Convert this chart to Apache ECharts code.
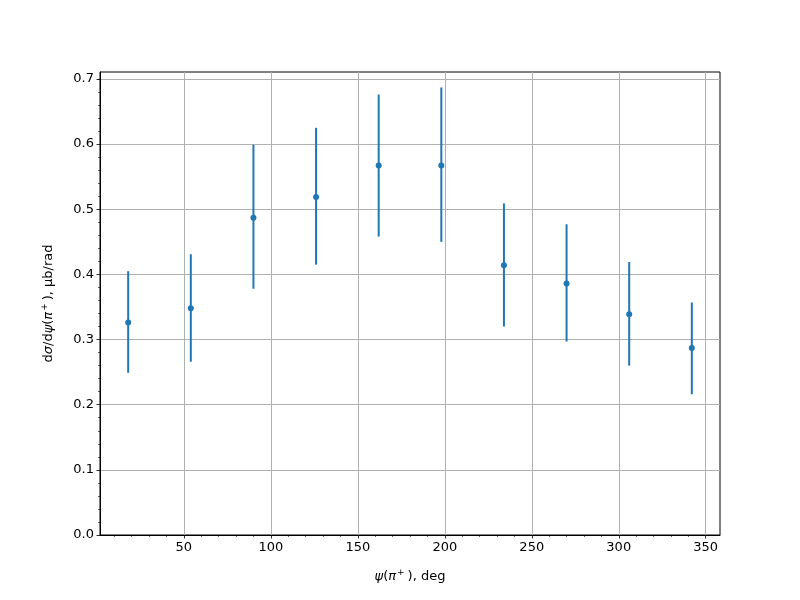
<!DOCTYPE html>
<html>
<head>
<meta charset="utf-8">
<script src="https://cdn.jsdelivr.net/npm/echarts@6/dist/echarts.min.js"></script>
<style>html,body{margin:0;padding:0;background:#fff}#c{width:800px;height:600px}</style>
</head>
<body>
<div id="c"></div>
<script>
const psi = [18, 54, 90, 126, 162, 198, 234, 270, 306, 342];
const sigma = [0.326, 0.348, 0.487, 0.519, 0.567, 0.567, 0.414, 0.386, 0.339, 0.287];
const errLow = [0.249, 0.266, 0.378, 0.415, 0.458, 0.450, 0.320, 0.297, 0.260, 0.216];
const errHigh = [0.405, 0.431, 0.599, 0.625, 0.676, 0.687, 0.509, 0.477, 0.419, 0.357];
const xTicks = [50, 100, 150, 200, 250, 300, 350];
const xMinorTicks = [10, 20, 30, 40, 60, 70, 80, 90, 110, 120, 130, 140, 160, 170, 180, 190, 210, 220, 230, 240, 260, 270, 280, 290, 310, 320, 330, 340];
const yTicks = [0, 0.1, 0.2, 0.3, 0.4, 0.5, 0.6, 0.7];
const yMinorTicks = [0.02,0.04,0.06,0.08,0.12,0.14,0.16,0.18,0.22,0.24,0.26,0.28,0.32,0.34,0.36,0.38,0.42,0.44,0.46,0.48,0.52,0.54,0.56,0.58,0.62,0.64,0.66,0.68,0.70];

const blue = '#1f77b4';
const font = 'DejaVu Sans';
const xMin = 1.8, xMax = 358.2, yMin = 0, yMax = 0.7107;

const chart = echarts.init(document.getElementById('c'), null, {renderer: 'canvas'});
const points = psi.map((x, i) => [x, sigma[i]]);
const bars = psi.map((x, i) => [x, errLow[i], errHigh[i]]);

const richBase = {
  i: {fontStyle: 'italic', fontSize: 13, fontFamily: font, color: '#000'},
  sup: {fontSize: 9, verticalAlign: 'top', padding: [0, 3, 8, 1], fontFamily: font, color: '#000'}
};

chart.setOption({
  animation: false,
  backgroundColor: '#fff',
  textStyle: {fontFamily: font},
  grid: {left: 100, right: 80, top: 72, bottom: 65, show: true, borderColor: '#000', borderWidth: 1, containLabel: false},
  xAxis: [{
    type: 'value', min: xMin, max: xMax,
    axisLine: {show: true, onZero: false, lineStyle: {color: '#000', width: 1}},
    axisTick: {show: true, customValues: xTicks, length: 3.5, lineStyle: {color: '#000', width: 0.8}},
    axisLabel: {customValues: xTicks, color: '#000', fontSize: 13, fontFamily: font, margin: 6},
    splitLine: {show: true, lineStyle: {color: '#b0b0b0', width: 1}},
    name: '{i|ψ}({i|π}{sup|+}), deg',
    nameLocation: 'middle', nameGap: 33,
    nameTextStyle: {color: '#000', fontSize: 13, fontFamily: font, rich: richBase}
  }, {
    type: 'value', min: xMin, max: xMax, position: 'bottom',
    axisLine: {show: false},
    axisTick: {show: true, customValues: xMinorTicks, length: 2, lineStyle: {color: '#000', width: 0.6}},
    axisLabel: {show: false},
    splitLine: {show: false}
  }],
  yAxis: [{
    type: 'value', min: yMin, max: yMax,
    axisLine: {show: true, onZero: false, lineStyle: {color: '#000', width: 1}},
    axisTick: {show: true, customValues: yTicks, length: 3.5, lineStyle: {color: '#000', width: 0.8}},
    axisLabel: {customValues: yTicks, color: '#000', fontSize: 13, fontFamily: font, margin: 6,
      formatter: v => Number(v).toFixed(1)},
    splitLine: {show: true, lineStyle: {color: '#b0b0b0', width: 1}},
    name: 'd{i|σ}/d{i|ψ}({i|π}{sup|+}), μb/rad',
    nameLocation: 'middle', nameGap: 43, nameRotate: 90,
    nameTextStyle: {color: '#000', fontSize: 13, fontFamily: font, rich: richBase}
  }, {
    type: 'value', min: yMin, max: yMax, position: 'left',
    axisLine: {show: false},
    axisTick: {show: true, customValues: yMinorTicks, length: 2, lineStyle: {color: '#000', width: 0.6}},
    axisLabel: {show: false},
    splitLine: {show: false}
  }],
  series: [{
    type: 'custom',
    xAxisIndex: 0, yAxisIndex: 0,
    data: bars,
    encode: {x: 0, y: [1, 2]},
    z: 3,
    renderItem: function (params, api) {
      const x = api.value(0);
      const p1 = api.coord([x, api.value(1)]);
      const p2 = api.coord([x, api.value(2)]);
      return {
        type: 'line',
        shape: {x1: p1[0], y1: p1[1], x2: p2[0], y2: p2[1]},
        style: {stroke: blue, lineWidth: 2}
      };
    }
  }, {
    type: 'scatter',
    xAxisIndex: 0, yAxisIndex: 0,
    data: points,
    symbol: 'circle',
    symbolSize: 6,
    itemStyle: {color: blue, opacity: 1},
    z: 4
  }]
});
</script>
</body>
</html>
